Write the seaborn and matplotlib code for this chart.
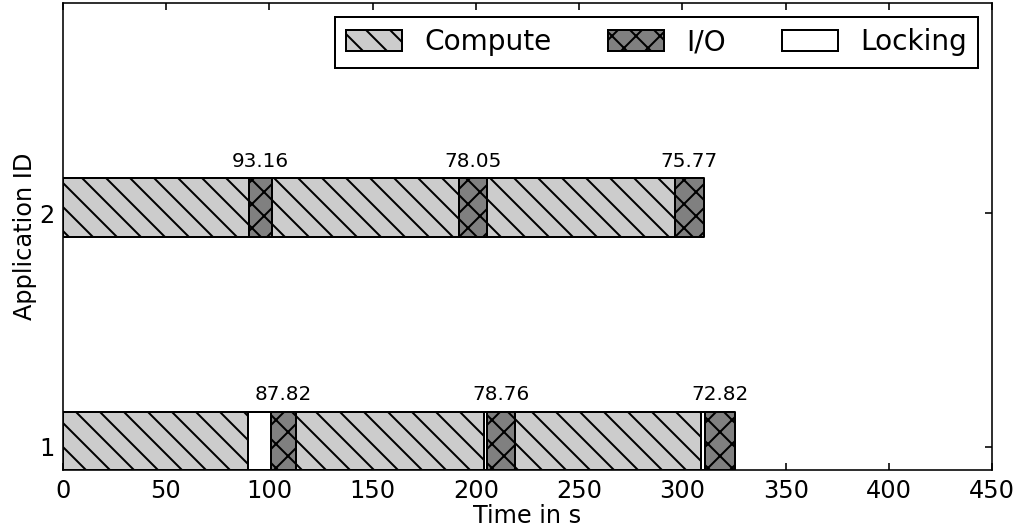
import matplotlib
matplotlib.use("Agg")
import matplotlib.pyplot as plt
import seaborn as sns
from matplotlib.patches import Patch

# ---- data (seconds) ----
app_ids = [1, 2]

app1_compute_start = [0.0, 112.8, 218.9]
app1_compute_dur = [89.7, 91.1, 90.2]
app1_lock_start = [89.7, 203.9, 309.1]
app1_lock_dur = [11.0, 1.5, 1.9]
app1_io_start = [100.7, 205.4, 311.0]
app1_io_dur = [12.1, 13.5, 14.5]
app1_labels = ["87.82", "78.76", "72.82"]

app2_compute_start = [0.0, 101.2, 205.2]
app2_compute_dur = [90.2, 90.8, 91.1]
app2_lock_start = []
app2_lock_dur = []
app2_io_start = [90.2, 192.0, 296.3]
app2_io_dur = [11.0, 13.2, 14.1]
app2_labels = ["93.16", "78.05", "75.77"]

legend_labels = ["Compute", "I/O", "Locking"]
x_ticks = [0, 50, 100, 150, 200, 250, 300, 350, 400, 450]

# ---- style ----
sns.set_style("ticks", rc={
    "xtick.direction": "in", "ytick.direction": "in",
    "xtick.top": True, "ytick.right": True,
    "axes.linewidth": 1.0, "axes.edgecolor": "black",
    "xtick.major.size": 4, "ytick.major.size": 4,
    "xtick.color": "black", "ytick.color": "black",
    "text.color": "black", "axes.labelcolor": "black",
    "hatch.linewidth": 1.0,
})
plt.rcParams["font.family"] = ["DejaVu Sans"]
plt.rcParams["hatch.color"] = "black"

fig = plt.figure(figsize=(1023 / 144, 531 / 144), dpi=144)
ax = fig.add_axes([0.0613, 0.1149, 0.9087, 0.8789])

compute_hatch = "\\\\"
io_hatch = "xx"

styles = {
    "compute": dict(facecolors="#cccccc", hatch=compute_hatch),
    "lock": dict(facecolors="white", hatch=None),
    "io": dict(facecolors="#808080", hatch=io_hatch),
}

apps = {
    1: (app1_compute_start, app1_compute_dur, app1_lock_start, app1_lock_dur,
        app1_io_start, app1_io_dur, app1_labels),
    2: (app2_compute_start, app2_compute_dur, app2_lock_start, app2_lock_dur,
        app2_io_start, app2_io_dur, app2_labels),
}

bar_low, bar_h = 0.1, 0.25
for app in app_ids:
    cs, cd, ls, ld, ios, iod, labels = apps[app]
    yr = (app - bar_low, bar_h)
    ax.broken_barh(list(zip(cs, cd)), yr, edgecolor="black", linewidth=1.0,
                   **styles["compute"])
    if ls:
        ax.broken_barh(list(zip(ls, ld)), yr, edgecolor="black", linewidth=1.0,
                       **styles["lock"])
    ax.broken_barh(list(zip(ios, iod)), yr, edgecolor="black", linewidth=1.0,
                   **styles["io"])
    for s, d, lab in zip(ios, iod, labels):
        ax.text(s + d / 2, app - bar_low + bar_h + 0.05, lab, ha="center",
                va="baseline", fontsize=10, color="black")

ax.set_xlim(0, 450)
ax.set_ylim(0.9, 2.9)
ax.set_xticks(x_ticks)
ax.set_yticks(app_ids)
ax.tick_params(axis="x", labelsize=12, pad=4.5)
ax.tick_params(axis="y", labelsize=12, pad=4)
ax.set_xlabel("Time in s", fontsize=12, labelpad=0.5)
ax.set_ylabel("Application ID", fontsize=12, labelpad=1)

handles = [
    Patch(facecolor="#cccccc", edgecolor="black", hatch=compute_hatch, linewidth=1.0),
    Patch(facecolor="#808080", edgecolor="black", hatch=io_hatch, linewidth=1.0),
    Patch(facecolor="white", edgecolor="black", linewidth=1.0),
]
leg = ax.legend(handles, legend_labels, loc="upper right", ncol=3, fontsize=14,
                fancybox=False, framealpha=1, edgecolor="black",
                handlelength=2.0, handleheight=0.78, handletextpad=0.8,
                columnspacing=2.0, borderaxespad=0.5, borderpad=0.4)
leg.get_frame().set_linewidth(1.0)

fig.savefig("out.png", dpi=144)
